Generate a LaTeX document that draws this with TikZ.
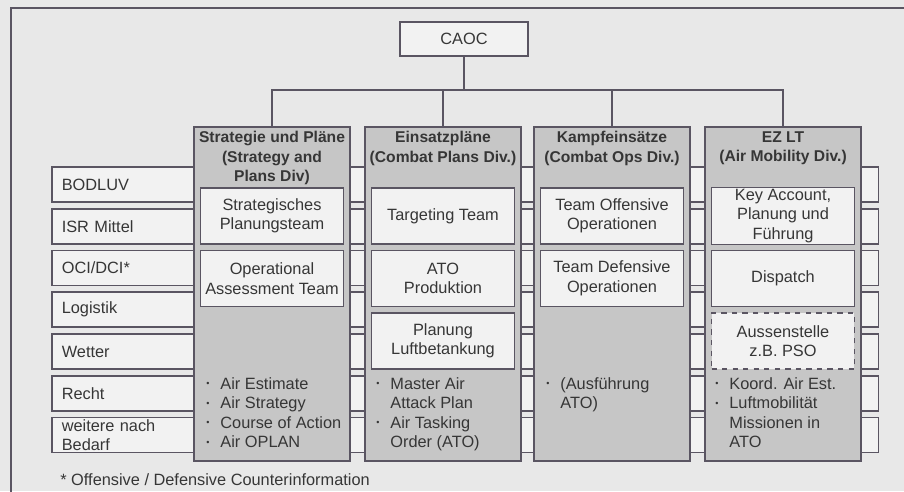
\documentclass[tikz,border=0pt]{standalone}
\usepackage{fontspec}
\setmainfont{Liberation Sans}
\definecolor{paper}{HTML}{E8E8E8}
\definecolor{divgray}{HTML}{C6C6C6}
\definecolor{boxwhite}{HTML}{F2F2F2}
\definecolor{rule}{HTML}{5A5562}
\definecolor{ink}{HTML}{363636}
\newcommand{\bitem}{\makebox[8pt][l]{\raisebox{1.4pt}{\scalebox{0.55}{\textbullet}}}}
\newcommand{\bcont}{\hspace*{8pt}}
\tikzset{
  rowbox/.style={draw=rule, fill=boxwhite, line width=0.9pt, anchor=west, inner xsep=0.2cm, inner ysep=0pt,
    text width=16.14cm, minimum height=0.7cm, align=left},
  divbox/.style={draw=rule, fill=divgray, line width=0.9pt, anchor=north, minimum width=3.12cm, minimum height=6.68cm},
  divhead/.style={anchor=north, inner sep=0pt, align=center, font=\bfseries\fontsize{8.9}{11.1}\selectfont},
  teambox/.style={draw=rule, fill=boxwhite, line width=0.9pt, minimum width=2.86cm, minimum height=1.12cm,
    align=center, inner sep=1pt},
  plannedbox/.style={teambox, dashed},
  tasklist/.style={anchor=north west, inner sep=0pt, align=left},
}
\begin{document}
\begin{tikzpicture}[x=0.02cm, y=-0.02cm, text=ink, font=\fontsize{9.3}{11.1}\selectfont]
  \useasboundingbox (0,0) rectangle (904,491);
  \fill[paper] (0,0) rectangle (904,491);
  \draw[rule, line width=0.9pt] (11,500) -- (11,8) -- (910,8);

  \node[rowbox] (bodluv) at (51,184.5) {BODLUV};
  \node[rowbox] (isr) at (51,226.25) {ISR Mittel};
  \node[rowbox] (oci) at (51,268) {OCI/DCI*};
  \node[rowbox] (logistik) at (51,309.75) {Logistik};
  \node[rowbox] (wetter) at (51,351.5) {Wetter};
  \node[rowbox] (recht) at (51,393.25) {Recht};
  \node[rowbox] (weitere) at (51,435) {weitere nach\\Bedarf};

  \node[draw=rule, fill=boxwhite, line width=0.9pt, minimum width=2.56cm, minimum height=0.68cm] (caoc) at (464,39) {CAOC};

  \node[divbox] (strat) at (272,126) {};
  \node[divbox] (plans) at (443,126) {};
  \node[divbox] (ops) at (612,126) {};
  \node[divbox] (mob) at (783,126) {};

  \node[divhead] (strat-h) at (272,131) {Strategie und Pläne\\(Strategy and\\Plans Div)};
  \node[divhead] (plans-h) at (443,131) {Einsatzpläne\\(Combat Plans Div.)};
  \node[divhead] (ops-h) at (612,131) {Kampfeinsätze\\(Combat Ops Div.)};
  \node[divhead] (mob-h) at (783,131) {EZ LT\\(Air Mobility Div.)};

  \node[teambox] (sp1) at (272,216) {Strategisches\\Planungsteam};
  \node[teambox] (sp2) at (272,278.5) {Operational\\Assessment Team};
  \node[teambox] (cp1) at (443,216) {Targeting Team};
  \node[teambox] (cp2) at (443,278.5) {ATO\\Produktion};
  \node[teambox] (cp3) at (443,341) {Planung\\Luftbetankung};
  \node[teambox] (co1) at (612,216) {Team Offensive\\Operationen};
  \node[teambox] (co2) at (612,278.5) {Team Defensive\\Operationen};
  \node[teambox] (am1) at (783,216) {Key Account,\\Planung und\\Führung};
  \node[teambox] (am2) at (783,278.5) {Dispatch};
  \node[plannedbox] (am3) at (783,341) {Aussenstelle\\z.B. PSO};

  \node[tasklist] (strat-t) at (206,377) {\bitem Air Estimate\\\bitem Air Strategy\\\bitem Course of Action\\\bitem Air OPLAN};
  \node[tasklist] (plans-t) at (376,377) {\bitem Master Air\\\bcont Attack Plan\\\bitem Air Tasking\\\bcont Order (ATO)};
  \node[tasklist] (ops-t) at (546,377) {\bitem (Ausführung\\\bcont ATO)};
  \node[tasklist] (mob-t) at (715,377) {\bitem Koord. Air Est.\\\bitem Luftmobilität\\\bcont Missionen in\\\bcont ATO};

  \node[anchor=west, inner sep=0pt] (note) at (60,480) {* Offensive / Defensive Counterinformation};

  \coordinate (bus) at (464,90);
  \begin{scope}[rule, line width=0.9pt]
    \draw (caoc.south) -- (bus);
    \draw (strat.north) |- (bus) -| (mob.north);
    \draw (plans.north) -- (plans.north |- bus);
    \draw (ops.north) -- (ops.north |- bus);
  \end{scope}
\end{tikzpicture}
\end{document}
